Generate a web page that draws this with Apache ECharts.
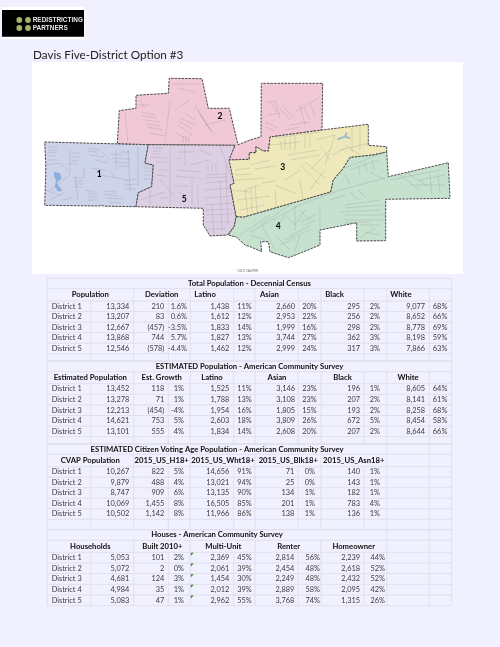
<!DOCTYPE html>
<html><head><meta charset="utf-8">
<style>html,body{margin:0;padding:0;background:#F0F0FE}#c{width:500px;height:647px}</style>
<script src="https://cdn.jsdelivr.net/npm/echarts@6/dist/echarts.min.js"></script>
</head><body><div id="c"></div>
<script>
const chartTitle = 'Davis Five-District Option #3';
const districtNames = ['District 1','District 2','District 3','District 4','District 5'];

const totalTitle = 'Total Population - Decennial Census';
const totalHeaders = ['Population','Deviation','Latino','Asian','Black','White'];
const totalRows = [
 ['13,334','210','1.6%','1,438','11%','2,660','20%','295','2%','9,077','68%'],
 ['13,207','83','0.6%','1,612','12%','2,953','22%','256','2%','8,652','66%'],
 ['12,667','(457)','-3.5%','1,833','14%','1,999','16%','298','2%','8,778','69%'],
 ['13,868','744','5.7%','1,827','13%','3,744','27%','362','3%','8,198','59%'],
 ['12,546','(578)','-4.4%','1,462','12%','2,999','24%','317','3%','7,866','63%']];

const estTitle = 'ESTIMATED Population - American Community Survey';
const estHeaders = ['Estimated Population','Est. Growth','Latino','Asian','Black','White'];
const estRows = [
 ['13,452','118','1%','1,525','11%','3,146','23%','196','1%','8,605','64%'],
 ['13,278','71','1%','1,788','13%','3,108','23%','207','2%','8,141','61%'],
 ['12,213','(454)','-4%','1,954','16%','1,805','15%','193','2%','8,258','68%'],
 ['14,621','753','5%','2,603','18%','3,809','26%','672','5%','8,454','58%'],
 ['13,101','555','4%','1,834','14%','2,608','20%','207','2%','8,644','66%']];

const cvapTitle = 'ESTIMATED Citizen Voting Age Population - American Community Survey';
const cvapHeaders = ['CVAP Population','2015_US_H18+','2015_US_Wht18+','2015_US_Blk18+','2015_US_Asn18+'];
const cvapRows = [
 ['10,267','822','5%','14,656','91%','71','0%','140','1%'],
 ['9,879','488','4%','13,021','94%','25','0%','143','1%'],
 ['8,747','909','6%','13,135','90%','134','1%','182','1%'],
 ['10,069','1,455','8%','16,505','85%','201','1%','783','4%'],
 ['10,502','1,142','8%','11,966','86%','138','1%','136','1%']];

const houseTitle = 'Houses - American Community Survey';
const houseHeaders = ['Households','Built 2010+','Multi-Unit','Renter','Homeowner'];
const houseRows = [
 ['5,053','101','2%','2,369','45%','2,814','56%','2,239','44%'],
 ['5,072','2','0%','2,061','39%','2,454','48%','2,618','52%'],
 ['4,681','124','3%','1,454','30%','2,249','48%','2,432','52%'],
 ['4,984','35','1%','2,012','39%','2,889','58%','2,095','42%'],
 ['5,083','47','1%','2,962','55%','3,768','74%','1,315','26%']];

// map geometry (traced outlines)
const district1 = [[44.7,142],[148.3,144.7],[145,163],[153.3,165],[151.7,186.7],[138.3,192.7],[136,206.7],[104,206.2],[101.7,205.2],[99,206],[44.7,205.3],[45.7,175],[45.7,163]];
const district2 = [[117.3,143.5],[119.3,110.7],[136,108.3],[136,95.3],[168.3,93.3],[169.3,78.3],[202,78.7],[208.3,108.3],[229.3,108.3],[238,144.7],[250,140],[261,136.7],[261.3,83.3],[322.7,83.3],[322,130],[270,137],[268.5,151],[263.3,151],[256,146.7],[256,152.7],[249.3,152.7],[249.3,159.3],[228.3,160],[229,160],[235,145.3],[148.3,144.7]];
const district3 = [[228.3,160],[249.3,159.3],[249.3,152.7],[256,152.7],[256,146.7],[263.3,151],[268.5,151],[270,137],[322,130],[368.3,124.3],[368.3,145.3],[386.7,146.7],[386.7,152],[373,155],[350,157.5],[343.3,168.3],[333.3,180],[330.7,192],[243.3,217.3],[236,216.7],[230,185],[234,183.3]];
const district4 = [[236,216.7],[243.3,217.3],[330.7,192],[333.3,180],[343.3,168.3],[350,157.5],[373,155],[386.7,152],[388.3,176.7],[448.3,162.7],[450,198.3],[385.7,199.3],[385.7,240.7],[356.7,241],[356.7,222.7],[320,230],[320,245],[300,253.3],[288.3,257.7],[270,251.7],[268.3,241.7],[260.7,241.7],[261.7,251.7],[251.7,247.3],[245,245],[236.7,237.3],[228.3,235],[234,226.7]];
const district5 = [[148.3,144.7],[235,145.3],[229,160],[234,183.3],[230,185],[236,216.7],[234,226.7],[227.3,235],[210,236],[203.3,225],[203.3,208.3],[136,206.7],[138.3,192.7],[151.7,186.7],[153.3,165],[145,163]];
const lake = [[54,171.7],[60,173.3],[61.7,178.3],[56.7,182.7],[59.3,186.7],[62.7,190.7],[58.3,191.7],[55,186.7],[56,180],[54,176.7]];
const labelSpots = {'1':[99.3,174.3],'2':[220,116.7],'3':[282.7,167.7],'4':[278.3,226],'5':[184.3,199.3]};
const districtColors = {'1':'#CDD3E8','2':'#F1C8D5','3':'#EFE8BA','4':'#C6E1CD','5':'#DDCFE3'};
const waterLine = [[[337.3,139.3],[345,136.7],[346.7,132.7]],[[345,136.7],[350,138.3]]];
const streets = [
 // arterials
 [[138,147],[138,186]],[[128,150],[130,190]],[[116,150],[116,170]],[[70,150],[70,175]],[[170,150],[170,205]],[[185,146],[185,165]],[[212,205],[214,235]],[[220,180],[222,230]],[[226,165],[228,225]],[[125,112],[128,143]],[[170,100],[165,143]],[[340,190],[385,178]],[[250,232],[300,205],[340,190]],[[390,180],[440,170]],[[295,205],[295,230]],[[320,205],[320,228]],
 // district 1
 [[48,147],[57,147]],[[48,150],[57,150]],[[47,153],[57,152]],[[48,156],[56,156]],[[48,160],[58,160]],[[47,165],[60,163],[68,170]],[[72,153],[80,153]],[[72,157],[80,157]],[[72,161],[78,161]],[[68,164],[78,164]],[[88,148],[100,150],[110,160]],[[90,155],[104,157]],[[95,160],[108,163]],[[87,151],[97,152]],[[110,154],[122,155]],[[112,158],[130,159]],[[113,162],[128,163]],[[118,166],[130,166]],[[120,152],[130,152]],[[142,165],[150,165]],[[144,168],[151,168]],[[144,171],[152,171]],[[144,175],[151,175]],[[144,179],[150,179]],[[75,175],[78,200]],[[73,178],[83,178]],[[74,181],[83,181]],[[74,184],[84,184]],[[74,187],[82,187]],[[85,190],[95,192]],[[88,194],[97,194]],[[88,197],[97,197]],[[88,200],[96,200]],[[50,190],[70,175]],[[50,200],[65,192]],[[103,191],[116,192]],[[104,194],[118,196]],[[106,198],[122,199]],[[108,202],[122,203]],[[124,181],[136,179]],[[124,185],[137,184]],[[125,189],[136,189]],[[100,175],[128,180]],[[45,190],[60,195]],[[62,200],[72,198]],[[84,168],[84,178]],[[90,168],[105,170]],[[108,170],[116,178]],
 // district 5
 [[153,148],[163,148]],[[153,151],[162,151]],[[153,154],[161,154]],[[150,157],[168,158]],[[155,162],[167,162]],[[158,170],[168,170]],[[156,175],[167,176]],[[190,165],[210,160]],[[178,170],[200,172]],[[176,176],[196,178]],[[160,180],[175,196]],[[192,180],[192,205]],[[198,185],[198,205]],[[208,163],[208,172]],[[212,163],[212,172]],[[216,163],[216,172]],[[205,175],[226,174]],[[205,178],[228,177]],[[205,183],[230,181]],[[205,190],[230,188]],[[205,198],[232,196]],[[205,205],[232,203]],[[206,210],[232,209]],[[206,215],[232,214]],[[206,222],[230,222]],[[207,229],[226,229]],[[220,145],[232,180]],[[140,200],[165,192]],[[150,190],[150,205]],[[178,152],[195,152]],[[175,158],[182,158]],[[175,186],[188,186]],[[178,192],[186,196]],[[200,150],[212,155]],[[160,198],[168,198]],
 // district 2
 [[140,100],[145,108]],[[138,105],[150,105]],[[142,112],[155,115]],[[145,120],[160,122]],[[148,127],[163,130]],[[150,133],[165,136]],[[142,116],[157,118]],[[146,124],[160,126]],[[175,110],[190,100]],[[180,118],[195,125]],[[185,113],[195,120]],[[178,121],[192,129]],[[178,125],[192,135]],[[175,132],[188,140]],[[195,105],[210,130]],[[198,110],[212,133]],[[200,115],[215,135]],[[205,125],[225,120]],[[172,84],[200,84]],[[178,88],[195,92]],[[183,136],[183,143]],[[186,136],[186,143]],[[189,136],[189,143]],[[265,102],[275,102]],[[275,100],[280,118]],[[271,103],[277,112]],[[280,108],[290,120]],[[283,106],[293,118]],[[268,115],[280,113]],[[265,122],[278,128]],[[265,127],[275,131]],[[295,112],[320,97]],[[300,105],[305,125]],[[304,108],[310,120]],[[310,104],[315,115]],[[290,125],[310,122]],[[285,130],[300,127]],
 // district 3
 [[275,138],[320,132]],[[280,141],[282,150]],[[285,138],[285,150]],[[290,138],[290,150]],[[295,136],[295,150]],[[305,135],[305,148]],[[310,135],[310,147]],[[270,145],[300,142]],[[315,140],[335,135]],[[320,145],[330,160]],[[340,150],[370,143]],[[345,145],[360,155]],[[330,150],[310,170]],[[290,160],[320,155]],[[288,155],[318,150]],[[250,165],[270,160]],[[255,169],[275,166]],[[235,170],[250,168]],[[235,175],[252,174]],[[235,180],[265,178]],[[245,190],[260,185]],[[285,180],[300,170]],[[300,165],[320,185]],[[305,162],[325,178]],[[275,185],[295,193]],[[230,190],[250,192]],[[237,200],[270,196]],[[240,210],[265,205]],[[245,190],[248,215]],[[251,188],[252,212]],[[255,185],[257,212]],[[275,190],[276,208]],[[300,180],[303,200]],[[335,135],[325,165]],[[360,126],[360,150]],[[352,128],[352,152]],[[332,155],[345,148]],[[262,183],[275,181]],[[310,190],[325,170]],
 // district 4
 [[345,168],[385,152]],[[350,170],[378,160]],[[358,166],[360,175]],[[365,162],[367,172]],[[372,160],[374,170]],[[370,172],[385,180]],[[400,175],[420,190]],[[405,172],[428,186]],[[410,185],[445,185]],[[420,180],[445,175]],[[430,175],[432,195]],[[438,174],[440,193]],[[330,200],[345,195]],[[345,205],[380,200]],[[345,208],[382,205]],[[340,212],[380,210]],[[345,215],[385,215]],[[345,220],[385,220]],[[345,223],[370,222]],[[300,210],[310,220]],[[305,210],[295,225],[285,215],[278,225]],[[300,222],[315,215]],[[305,225],[316,220]],[[260,225],[290,205]],[[240,235],[270,215]],[[275,235],[290,250]],[[285,240],[310,230]],[[290,236],[310,226]],[[295,250],[300,235]],[[262,225],[275,250]],[[360,225],[380,225]],[[365,232],[380,235]],[[360,238],[375,228]],[[250,235],[265,240]],[[280,245],[296,238]],[[350,192],[358,200]],[[358,190],[366,198]],[[345,175],[350,185]]
];

// table layout
const FONT = 'Lato, "Open Sans", sans-serif';
const colX = [47.3,90.7,133.7,168.3,190.3,233.7,255,298.3,321,364.3,386.7,429.3,451.7];
const sections = [
 {title:totalTitle,titleCx:249.5,top:[278.3,288.7,301],rows:totalRows,dataBottom:353.7,emptyTo:361,headers:totalHeaders,
  headX:[[90.3,'center'],[161.7,'center'],[194.3,'left'],[260,'left'],[325.3,'left'],[390.3,'left']],
  right:[129.3,164.3,187,229.3,251.7,295,316.7,360,380,425,447.3],headV:[2,4,5,6,7,8,9,10,11],titleV:[]},
 {title:estTitle,titleCx:249.5,top:[361,371.7,383.7],rows:estRows,dataBottom:436.7,emptyTo:444,headers:estHeaders,
  headX:[[90.3,'center'],[161.7,'center'],[212,'center'],[277,'center'],[342.5,'center'],[408,'center']],
  right:[129.3,164.3,184,229.3,251.7,295,316.7,360,380,425,447.3],headV:[2,4,5,6,7,8,9,10,11],titleV:[]},
 {title:cvapTitle,titleCx:217,top:[444,454.3,466.7],rows:cvapRows,dataBottom:519.3,emptyTo:529.7,headers:cvapHeaders,
  headX:[[90.3,'center'],[161.7,'center'],[223,'center'],[288.3,'center'],[353.7,'center']],
  right:[129.3,164.3,184,229.3,251.7,294.3,315,360,380],headV:[2,4,6,8,10,11],titleV:[10,11]},
 {title:houseTitle,titleCx:217,top:[529.7,540.3,552.3],rows:houseRows,dataBottom:605.7,emptyTo:null,headers:houseHeaders,
  headX:[[90.3,'center'],[162.3,'center'],[223.3,'center'],[288.7,'center'],[353.7,'center']],
  right:[129.3,164.3,184,229.3,251.7,294.3,320,360,385],headV:[2,4,6,8,10,11],titleV:[10,11],flags:true}
];

const gridSegs=[], texts=[], flags=[];
const L=colX[0], R=colX[12];
function hline(y){gridSegs.push([L,y,R,y]);}
function vline(i,y1,y2){gridSegs.push([colX[i],y1,colX[i],y2]);}
sections.forEach(s=>{
  const [t0,t1,t2]=s.top, n=s.rows.length, rowH=(s.dataBottom-t2)/n;
  hline(t0);hline(t1);hline(t2);
  s.titleV.forEach(i=>vline(i,t0,t1));
  s.headV.forEach(i=>vline(i,t1,t2));
  texts.push([s.title,s.titleCx,(t0+t1)/2,'center',1]);
  s.headers.forEach((h,i)=>texts.push([h,s.headX[i][0],(t1+t2)/2,s.headX[i][1],1]));
  s.rows.forEach((r,ri)=>{
    const y0=t2+ri*rowH, cy=y0+rowH/2;
    hline(y0+rowH);
    texts.push([districtNames[ri],51.7,cy,'left',0]);
    r.forEach((v,ci)=>texts.push([v,s.right[ci],cy,'right',0]));
    if(s.flags) flags.push([colX[4],y0]);
  });
  for(let i=1;i<12;i++){ vline(i,t2,s.dataBottom); if(s.emptyTo) vline(i,s.dataBottom,s.emptyTo); }
  if(s.emptyTo) hline(s.emptyTo);
  vline(0,t0,s.emptyTo||s.dataBottom); vline(12,t0,s.emptyTo||s.dataBottom);
});

const features = [['1',district1],['2',district2],['3',district3],['4',district4],['5',district5]].map(([n,c])=>({
  type:'Feature',properties:{name:n,cp:labelSpots[n]},geometry:{type:'Polygon',coordinates:[c.concat([c[0]])]}}));
features.push({type:'Feature',properties:{name:'lake'},geometry:{type:'Polygon',coordinates:[lake.concat([lake[0]])]}});
echarts.registerMap('davis',{type:'FeatureCollection',features});

const chart = echarts.init(document.getElementById('c'),null,{renderer:'canvas',width:500,height:647});
const BORDER = '#4a4a4a';
const LOGOFONT = 'bold 6.8px "Liberation Sans Narrow", "Liberation Sans", sans-serif';
chart.setOption({
  animation:false,
  backgroundColor:'#F0F0FE',
  title:{text:chartTitle,left:33,top:49.5,padding:0,textStyle:{fontFamily:FONT,fontSize:11.7,fontWeight:'normal',color:'#222'}},
  grid:{left:0,top:0,right:0,bottom:0,containLabel:false},
  xAxis:{type:'value',min:0,max:500,show:false},
  yAxis:{type:'value',min:0,max:647,inverse:true,show:false},
  geo:{map:'davis',projection:{project:p=>p,unproject:p=>p},boundingCoords:[[32,62],[463,274]],
    left:32,top:62,width:431,height:212,aspectScale:1,roam:false,silent:true,z:3,
    label:{show:true,fontFamily:FONT,fontWeight:'bold',fontSize:8.5,color:'#000'},
    itemStyle:{borderColor:BORDER,borderWidth:1,borderType:[2.5,1]},
    regions:Object.keys(districtColors).map(k=>({name:k,itemStyle:{areaColor:districtColors[k]}}))
      .concat([{name:'lake',label:{show:false},itemStyle:{areaColor:'#8FB0DE',borderWidth:0}}])},
  graphic:[
    {type:'rect',z:-1,silent:true,shape:{x:32,y:62,width:431,height:212},style:{fill:'#fff'}},
    {type:'rect',silent:true,shape:{x:1.6,y:7,width:83,height:32.3},style:{fill:'#fff'}},
    {type:'rect',silent:true,z:1,shape:{x:2,y:10,width:82,height:26.7},style:{fill:'#000'}},
    ...[[19.3,20],[28,20],[19.3,28],[28,28]].map(c=>({type:'circle',silent:true,z:2,shape:{cx:c[0],cy:c[1],r:2.9},style:{fill:'#A3B26C'}})),
    {type:'text',silent:true,z:2,x:32.7,y:20,scaleX:0.95,style:{text:'REDISTRICTING',font:LOGOFONT,fill:'#e8e8e8',verticalAlign:'middle',align:'left'}},
    {type:'text',silent:true,z:2,x:32.7,y:28,scaleX:0.95,style:{text:'PARTNERS',font:LOGOFONT,fill:'#e8e8e8',verticalAlign:'middle',align:'left'}},
    {type:'text',silent:true,z:5,x:237,y:271,style:{text:'©2017 CALIPER',font:'2.8px sans-serif',fill:'#666',verticalAlign:'middle',align:'left'}}
  ],
  series:[
    {type:'lines',coordinateSystem:'geo',polyline:true,silent:true,z:4,
     data:streets.map(c=>({coords:c})),lineStyle:{color:'#7d7d88',width:0.5,opacity:0.45}},
    {type:'lines',coordinateSystem:'geo',polyline:true,silent:true,z:4,
     data:waterLine.map(c=>({coords:c})),lineStyle:{color:'#9FBDC8',width:2,opacity:1}},
    {type:'custom',coordinateSystem:'cartesian2d',silent:true,z:2,data:gridSegs,
     encode:{x:[0,2],y:[1,3]},
     renderItem:(p,api)=>{const a=api.coord([api.value(0),api.value(1)]),b=api.coord([api.value(2),api.value(3)]);
       return {type:'line',shape:{x1:a[0],y1:a[1],x2:b[0],y2:b[1]},style:{stroke:'#DBDBE8',lineWidth:0.8}};}},
    {type:'custom',coordinateSystem:'cartesian2d',silent:true,z:3,data:flags,
     encode:{x:0,y:1},
     renderItem:(p,api)=>{const a=api.coord([api.value(0),api.value(1)]);
       return {type:'polygon',shape:{points:[[a[0]+0.5,a[1]+0.5],[a[0]+3.5,a[1]+0.5],[a[0]+0.5,a[1]+3.5]]},style:{fill:'#2F8A1F'}};}},
    {type:'custom',coordinateSystem:'cartesian2d',silent:true,z:4,
     data:texts.map(t=>({value:[t[1],t[2]],t})),encode:{x:0,y:1},
     renderItem:(p,api)=>{const t=texts[p.dataIndex],a=api.coord([t[1],t[2]]);
       return {type:'text',style:{text:t[0],x:a[0],y:a[1],align:t[3],verticalAlign:'middle',
         font:(t[4]?'bold 7.7px ':'7.4px ')+FONT,fill:t[4]?'#111':'#3c3c3c'}};}}
  ]
});
</script></body></html>
